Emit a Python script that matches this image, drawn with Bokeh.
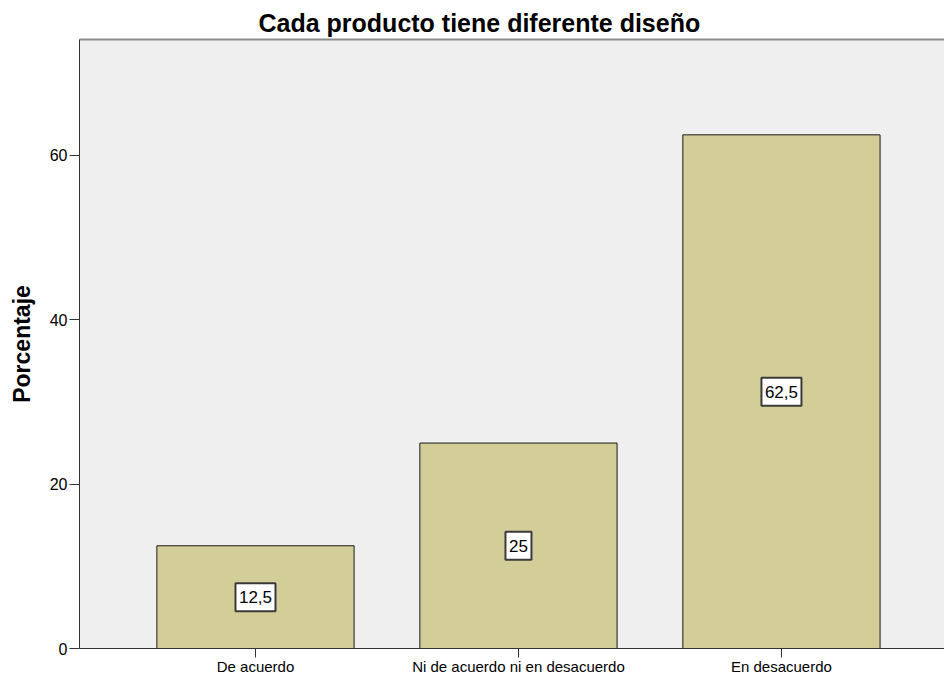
from bokeh.plotting import figure
from bokeh.models import (ColumnDataSource, Range1d, FixedTicker, LinearAxis, Title)
from bokeh.core.properties import value
from bokeh.embed import file_html
from bokeh.resources import INLINE

# ---- data ----
categories = ["De acuerdo", "Ni de acuerdo ni en desacuerdo", "En desacuerdo"]
percentages = [12.5, 25.0, 62.5]
value_labels = ["12,5", "25", "62,5"]
y_ticks = [0, 20, 40, 60]
title_text = "Cada producto tiene diferente diseño"
y_label = "Porcentaje"

FONT = "Liberation Sans"

xpos = list(range(1, len(categories) + 1))
src = ColumnDataSource(dict(
    x=xpos,
    top=percentages,
    mid=[v / 2 for v in percentages],
    lab=value_labels,
    boxw=[12 + 7 * len(s) for s in value_labels],
))

p = figure(width=944, height=677, output_backend="svg", toolbar_location=None,
           x_range=Range1d(0.3308, 3.620), y_range=Range1d(0, 74.1),
           min_border_left=79, min_border_right=0, min_border_top=39,
           min_border_bottom=0)
p.title = None
p.background_fill_color = "#efefef"
p.border_fill_color = "white"
p.outline_line_color = None
p.xgrid.visible = False
p.ygrid.visible = False

p.vbar(x="x", top="top", width=0.75, source=src, fill_color="#d3ce97",
       line_color="#1a1a1a", line_width=1)

p.rect(x="x", y="mid", width="boxw", height=28, width_units="screen",
       height_units="screen", source=src, fill_color="white",
       line_color="#3a3a3a", line_width=2)
p.text(x="x", y="mid", text="lab", source=src, text_align="center",
       text_baseline="middle", text_font=value(FONT), text_font_size="17px",
       text_color="black")

# x axis
xa = p.xaxis[0]
xa.ticker = FixedTicker(ticks=xpos)
xa.major_label_overrides = {x: c for x, c in zip(xpos, categories)}
xa.major_label_text_font = FONT
xa.major_label_text_font_size = "15px"
xa.major_label_text_color = "black"
xa.major_tick_out = 9
xa.major_tick_in = 0
xa.minor_tick_line_color = None
xa.major_label_standoff = 0
xa.axis_line_color = "#333333"
xa.major_tick_line_color = "#333333"

# y axis
ya = p.yaxis[0]
ya.ticker = FixedTicker(ticks=y_ticks)
ya.major_label_text_font = FONT
ya.major_label_text_font_size = "16px"
ya.major_label_text_color = "black"
ya.major_tick_out = 10
ya.major_tick_in = 0
ya.minor_tick_line_color = None
ya.major_label_standoff = 2
ya.axis_line_color = "#333333"
ya.major_tick_line_color = "#333333"
ya.axis_label = y_label
ya.axis_label_text_font = FONT
ya.axis_label_text_font_size = "23px"
ya.axis_label_text_font_style = "bold"
ya.axis_label_text_color = "black"
ya.axis_label_standoff = 12

# top border as an empty axis
top = LinearAxis(ticker=FixedTicker(ticks=[]), major_tick_line_color=None,
                 minor_tick_line_color=None, major_label_text_font_size="0px",
                 major_tick_out=0, major_tick_in=0, major_label_standoff=0,
                 axis_line_color="#8c8c8c", axis_line_width=2)
p.add_layout(top, "above")

t = Title(text=title_text, align="left", offset=179, text_font=FONT,
          text_font_size="25px", text_font_style="bold", text_color="black",
          standoff=5)
p.add_layout(t, "above")

open("out.html", "w").write(file_html(p, INLINE))
